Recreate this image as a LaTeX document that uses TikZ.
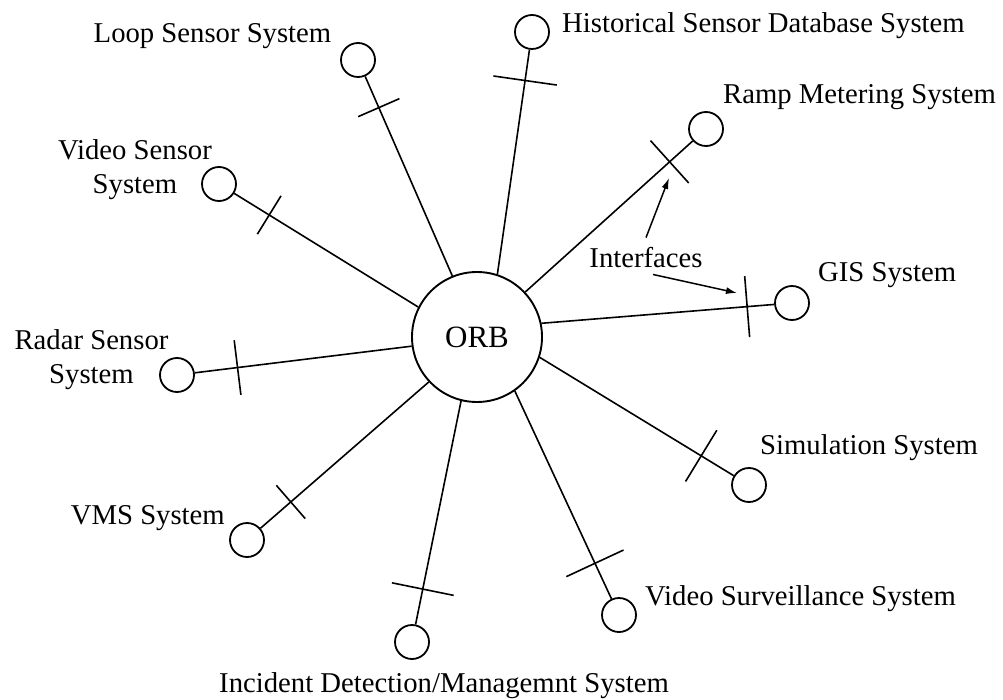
\documentclass[tikz,border=0pt]{standalone}
\usepackage{fontspec}
\setmainfont{Liberation Serif}
\usetikzlibrary{calc,arrows.meta}
\newcommand{\drawtick}[4]{%
  \coordinate (t#1) at ($(#1.center)!#3pt!(orb.#2)$);
  \draw[tickline] ($(t#1)!#4pt!90:(#1.center)$) -- ($(t#1)!#4pt!-90:(#1.center)$);}
\begin{document}
\begin{tikzpicture}[x=1pt,y=-1pt,
  lbl/.style={font=\fontsize{28.7pt}{34pt}\selectfont, inner sep=0pt},
  sys/.style={circle, draw, line width=1.8pt, minimum size=34pt, inner sep=0pt},
  conn/.style={line width=1.6pt},
  tickline/.style={line width=1.6pt},
  arr/.style={line width=1.5pt, -{Latex[length=11pt,width=7pt]}}]
\useasboundingbox (0,0) rectangle (1003,700);
% central ORB
\node[circle, draw, line width=1.9pt, minimum size=130pt, inner sep=0pt,
      font=\fontsize{31pt}{36pt}\selectfont] (orb) at (477,337) {ORB};
% system circles
\node[sys] (loop)  at (358,60)  {};
\node[sys] (hist)  at (532,32)  {};
\node[sys] (ramp)  at (706,129) {};
\node[sys] (gis)   at (792,303) {};
\node[sys] (sim)   at (749,485) {};
\node[sys] (vs)    at (619,615) {};
\node[sys] (inc)   at (412,642) {};
\node[sys] (vms)   at (247,540) {};
\node[sys] (radar) at (177,375) {};
\node[sys] (video) at (219,184) {};
% labels
\node[lbl, anchor=base] (loopL) at (212.5,43) {Loop Sensor System};
\node[lbl, anchor=base west] (histL) at (562,33) {Historical Sensor Database System};
\node[lbl, anchor=base west] (rampL) at (723,104) {Ramp Metering System};
\node[lbl, anchor=base] (videoL) at (135,194)
  {\begin{tabular}[b]{@{}c@{}}Video Sensor\\System\end{tabular}};
\node[lbl, anchor=base] (radarL) at (91.5,383)
  {\begin{tabular}[b]{@{}c@{}}Radar Sensor\\System\end{tabular}};
\node[lbl, anchor=base west] (gisL) at (818,282) {GIS System};
\node[lbl, anchor=base west] (simL) at (760,454) {Simulation System};
\node[lbl, anchor=base east] (vmsL) at (225,524) {VMS System};
\node[lbl, anchor=base west] (vsL) at (645,605) {Video Surveillance System};
\node[lbl, anchor=base] (incL) at (444,692) {Incident Detection/Managemnt System};
\node[lbl, anchor=base] (intf) at (646,268) {Interfaces};
% connectors
\draw[conn] (orb.112)   -- (loop);
\draw[conn] (orb.72)    -- (hist);
\draw[conn] (orb.43)    -- (ramp);
\draw[conn] (orb.12)    -- (gis);
\draw[conn] (orb.-18.7) -- (sim);
\draw[conn] (orb.-55.7) -- (vs);
\draw[conn] (orb.-104)  -- (inc);
\draw[conn] (orb.-137)  -- (vms);
\draw[conn] (orb.188.7) -- (radar);
\draw[conn] (orb.153.4) -- (video);
% interface ticks
\drawtick{loop}{112}{52}{22.5}
\drawtick{hist}{72}{49}{32}
\drawtick{ramp}{43}{49}{28.5}
\drawtick{gis}{12}{45}{30.5}
\drawtick{sim}{-18.7}{56}{30}
\drawtick{vs}{-55.7}{57}{31.5}
\drawtick{inc}{-104}{54}{31.5}
\drawtick{vms}{-137}{58}{22}
\drawtick{radar}{188.7}{61}{27.5}
\drawtick{video}{153.4}{59}{22.5}
% interface arrows
\coordinate (a1) at (669,178);
\coordinate (a2) at (737,293);
\draw[arr] ([yshift=10pt]intf.north) -- (a1);
\draw[arr] ([xshift=7pt,yshift=-6pt]intf.south) -- (a2);
\end{tikzpicture}
\end{document}
